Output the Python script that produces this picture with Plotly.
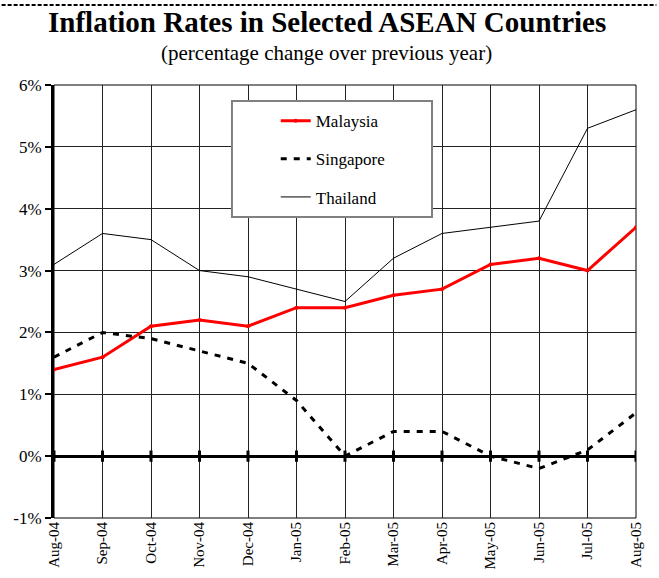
import plotly.graph_objects as go

months = ["Aug-04", "Sep-04", "Oct-04", "Nov-04", "Dec-04", "Jan-05", "Feb-05",
          "Mar-05", "Apr-05", "May-05", "Jun-05", "Jul-05", "Aug-05"]
malaysia = [1.4, 1.6, 2.1, 2.2, 2.1, 2.4, 2.4, 2.6, 2.7, 3.1, 3.2, 3.0, 3.7]
singapore = [1.6, 2.0, 1.9, 1.7, 1.5, 0.9, 0.0, 0.4, 0.4, 0.0, -0.2, 0.1, 0.7]
thailand = [3.1, 3.6, 3.5, 3.0, 2.9, 2.7, 2.5, 3.2, 3.6, 3.7, 3.8, 5.3, 5.6]
y_ticks = [-1, 0, 1, 2, 3, 4, 5, 6]
y_labels = ["-1%", "0%", "1%", "2%", "3%", "4%", "5%", "6%"]

FONT = "Liberation Serif, Times New Roman, serif"

fig = go.Figure()

# tick marks on the zero line
fig.add_trace(go.Scatter(
    x=months, y=[0] * len(months), mode="markers",
    marker=dict(symbol="line-ns-open", size=8, color="black",
                line=dict(color="black", width=3)),
    showlegend=False, hoverinfo="skip"))

fig.add_trace(go.Scatter(
    x=months, y=malaysia, name="Malaysia", mode="lines+markers",
    line=dict(color="#ff0000", width=3),
    marker=dict(size=4, color="#ff0000"), legendgroup="a"))
fig.add_trace(go.Scatter(
    x=months, y=singapore, name="Singapore", mode="lines",
    line=dict(color="black", width=3, dash="6px,7px"), legendgroup="b"))
fig.add_trace(go.Scatter(
    x=months, y=thailand, name="Thailand", mode="lines",
    line=dict(color="black", width=1), legendgroup="c"))

# plot-area border
fig.add_shape(type="rect", xref="paper", yref="paper", x0=0, x1=1, y0=0, y1=1,
              line=dict(color="black", width=1), layer="below")
# legend box
fig.add_shape(type="rect", xref="paper", yref="paper",
              x0=0.3058, x1=0.6495, y0=0.695, y1=0.963,
              line=dict(color="#808080", width=2), fillcolor="white", layer="above")
# dashed top line
fig.add_shape(type="line", xref="paper", yref="paper", x0=-0.09, x1=1.035,
              y0=1.185, y1=1.185, line=dict(color="black", width=2, dash="4px,2px"))

fig.add_annotation(text="<b>Inflation Rates in Selected ASEAN Countries</b>",
                   xref="paper", yref="paper", x=0.469, y=1.145, showarrow=False,
                   font=dict(family=FONT, size=29, color="black"), yanchor="middle")
fig.add_annotation(text="(percentage change over previous year)",
                   xref="paper", yref="paper", x=0.469, y=1.075, showarrow=False,
                   font=dict(family=FONT, size=21, color="black"), yanchor="middle")

fig.update_layout(
    width=659, height=578,
    margin=dict(l=54, r=23, t=85, b=60, autoexpand=False),
    paper_bgcolor="white", plot_bgcolor="white",
    font=dict(family=FONT, color="black"),
    showlegend=True,
    legend=dict(x=0.381, y=0.958, xanchor="left", yanchor="top",
                bgcolor="rgba(0,0,0,0)", borderwidth=0,
                font=dict(family=FONT, size=17, color="black"),
                tracegroupgap=13, itemwidth=30),
    xaxis=dict(type="category", range=[0, len(months) - 1], automargin=False,
               showgrid=True, gridcolor="#222", gridwidth=1,
               ticks="", tickangle=-90, tickfont=dict(family=FONT, size=15),
               showline=False, zeroline=False),
    yaxis=dict(range=[-1, 6], tickvals=y_ticks, ticktext=y_labels, automargin=False,
               showgrid=True, gridcolor="#222", gridwidth=1,
               ticks="outside", ticklen=6, tickwidth=2, tickcolor="black",
               tickfont=dict(family=FONT, size=17),
               showline=True, linecolor="black", linewidth=3,
               zeroline=True, zerolinecolor="black", zerolinewidth=3),
)

fig.write_html("out.html", config={"displayModeBar": False},
               post_script="document.body.style.margin='0';")
